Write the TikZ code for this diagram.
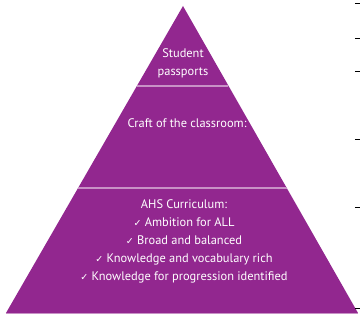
\documentclass[tikz,border=0pt]{standalone}
\usepackage{fontspec}
\setmainfont{PT Sans}
\newfontfamily\symfont{DejaVu Sans}
\usetikzlibrary{calc, positioning}
\definecolor{pyramid}{RGB}{146,39,143}
\definecolor{lavender}{RGB}{200,145,198}
\tikzstyle{tier} = [text=white, align=center, inner sep=0pt,
font=\fontsize{12.4}{18}\selectfont]
\tikzstyle{divider} = [draw=lavender, line width=1.5pt]
\tikzstyle{tick} = [thick, -]
\newcommand{\tickmark}{{\symfont\fontsize{9.5}{9.5}\selectfont ✓}\ }

\begin{document}
\begin{tikzpicture}[x=1pt, y=-1pt]

      \useasboundingbox (0,0) rectangle (360,320);

      \coordinate (A) at (183,6);
      \coordinate (L) at (6,313);
      \coordinate (R) at (358,313);

      \fill [pyramid] (A) -- (L) -- (R) -- cycle;
      \draw [lavender, line width=0.8pt] (L) -- (R);

      % tier borders
      \draw [divider] ($(A)!0.26!(L)$) -- ($(A)!0.26!(R)$);
      \draw [divider] ($(A)!0.593!(L)$) -- ($(A)!0.593!(R)$);

      \node (SP) [tier] at (183,63) {Student\\ passports};
      \node (CC) [tier] at (187,123) {Craft of the classroom:};
      \node (AC) [tier] at (184,241) {AHS Curriculum:\\
        \tickmark Ambition for ALL\\
        \tickmark Broad and balanced\\
        \tickmark Knowledge and vocabulary rich\\
        \tickmark Knowledge for progression identified};

      % scale marks on the right
      \foreach \ty in {3,38,71,139,207,308}
        \draw [tick] (355,\ty) -- (360,\ty);

  \end{tikzpicture}
\end{document}
